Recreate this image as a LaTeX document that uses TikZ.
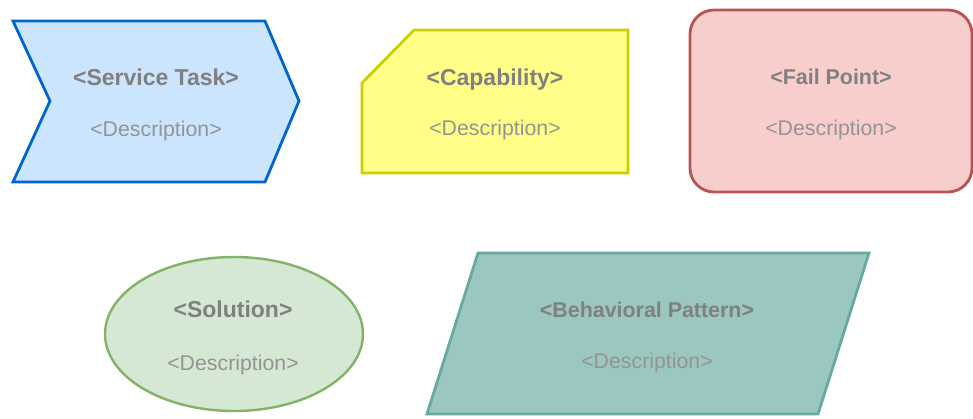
\documentclass[tikz,border=0pt]{standalone}
\usepackage{fontspec}
\setmainfont{Liberation Sans}
\definecolor{blueFill}{HTML}{CCE5FF}
\definecolor{blueLine}{HTML}{0066CC}
\definecolor{yelFill}{HTML}{FFFF88}
\definecolor{yelLine}{HTML}{CDCD00}
\definecolor{redFill}{HTML}{F8CECC}
\definecolor{redLine}{HTML}{B85450}
\definecolor{grnFill}{HTML}{D5E8D4}
\definecolor{grnLine}{HTML}{82B366}
\definecolor{tealFill}{HTML}{9AC7BF}
\definecolor{tealLine}{HTML}{67AB9F}
\definecolor{titleGray}{HTML}{808080}
\definecolor{descGray}{HTML}{949494}
\tikzset{
  shapeline/.style={line width=2.8pt, line join=miter},
  titletext/.style={font=\fontsize{23}{26}\selectfont\bfseries, text=titleGray, inner sep=0pt, anchor=base},
  titlesmall/.style={font=\fontsize{21.4}{24}\selectfont\bfseries, text=titleGray, inner sep=0pt, anchor=base},
  desctext/.style={font=\fontsize{21.3}{24}\selectfont, text=descGray, inner sep=0pt, anchor=base},
}
\begin{document}
\begin{tikzpicture}[x=1pt,y=-1pt]
\useasboundingbox (0,0) rectangle (973,418);
% Service Task chevron
\draw[shapeline, fill=blueFill, draw=blueLine]
  (13,21) -- (265,21) -- (299,101) -- (265,182) -- (13,182) -- (50,101) -- cycle;
\node[titletext] (st) at (156,85) {<Service Task>};
\node[desctext] (sd) at (156,136) {<Description>};
% Capability card
\draw[shapeline, fill=yelFill, draw=yelLine]
  (362,83) -- (414,30) -- (628,30) -- (628,173) -- (362,173) -- cycle;
\node[titletext] (ct) at (495,85) {<Capability>};
\node[desctext] (cd) at (495,135) {<Description>};
% Fail Point rounded rectangle
\draw[shapeline, fill=redFill, draw=redLine, rounded corners=24pt]
  (690,10) rectangle (972,192);
\node[titlesmall] (ft) at (831,84) {<Fail Point>};
\node[desctext] (fd) at (831,135) {<Description>};
% Solution ellipse
\draw[line width=2.4pt, fill=grnFill, draw=grnLine]
  (234,334) ellipse [x radius=129, y radius=77];
\node[titletext] (sot) at (233,317) {<Solution>};
\node[desctext] (sod) at (233,370) {<Description>};
% Behavioral Pattern parallelogram
\draw[shapeline, fill=tealFill, draw=tealLine]
  (478,253) -- (869,253) -- (818,414) -- (427,414) -- cycle;
\node[titlesmall] (bt) at (647,317) {<Behavioral Pattern>};
\node[desctext] (bd) at (647,368) {<Description>};
\end{tikzpicture}
\end{document}
